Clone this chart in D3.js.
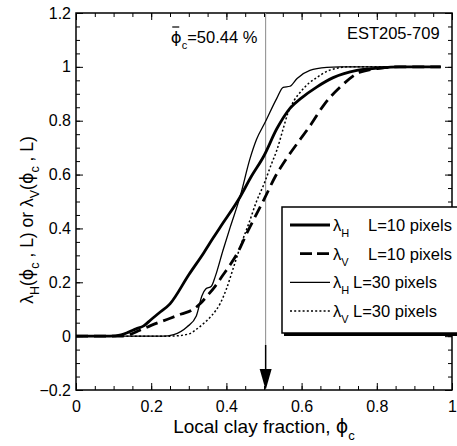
<!DOCTYPE html>
<html>
<head>
<meta charset="utf-8">
<script src="https://cdn.jsdelivr.net/npm/d3@7"></script>
<style>
  body { margin: 0; background: #fff; }
  svg text { font-family: "Liberation Sans", Arial, sans-serif; fill: #000; }
  .phi { font-family: "DejaVu Sans", sans-serif; }
</style>
</head>
<body>
<div id="chart"></div>
<script>
// Data
const phiH10 = [0, 0.09, 0.12, 0.14, 0.16, 0.18, 0.2, 0.22, 0.25, 0.3, 0.34, 0.365, 0.39, 0.436, 0.465, 0.5, 0.534, 0.569, 0.6, 0.64, 0.684, 0.747, 0.8, 0.86, 0.97];
const lamH10 = [0, 0, 0.005, 0.015, 0.027, 0.038, 0.062, 0.085, 0.12, 0.228, 0.31, 0.365, 0.418, 0.516, 0.59, 0.67, 0.77, 0.846, 0.885, 0.925, 0.96, 0.987, 0.995, 1, 1];

const phiV10 = [0, 0.12, 0.14, 0.17, 0.2, 0.242, 0.28, 0.31, 0.33, 0.348, 0.37, 0.39, 0.41, 0.428, 0.457, 0.481, 0.503, 0.529, 0.56, 0.588, 0.622, 0.66, 0.702, 0.755, 0.81, 0.86, 0.97];
const lamV10 = [0, 0, 0.005, 0.022, 0.04, 0.062, 0.082, 0.098, 0.12, 0.148, 0.185, 0.225, 0.265, 0.305, 0.39, 0.456, 0.516, 0.59, 0.66, 0.715, 0.78, 0.86, 0.924, 0.98, 0.995, 1, 1];

const phiH30 = [0, 0.23, 0.26, 0.295, 0.32, 0.335, 0.345, 0.36, 0.37, 0.391, 0.41, 0.436, 0.463, 0.48, 0.503, 0.534, 0.551, 0.569, 0.588, 0.622, 0.667, 0.7, 0.97];
const lamH30 = [0, 0, 0.006, 0.034, 0.075, 0.15, 0.175, 0.185, 0.22, 0.319, 0.404, 0.516, 0.66, 0.73, 0.794, 0.883, 0.924, 0.928, 0.957, 0.987, 0.998, 1, 1];

const phiV30 = [0, 0.25, 0.3, 0.32, 0.34, 0.36, 0.383, 0.4, 0.42, 0.44, 0.46, 0.48, 0.5, 0.52, 0.534, 0.55, 0.564, 0.58, 0.596, 0.62, 0.64, 0.67, 0.694, 0.72, 0.97];
const lamV30 = [0, 0, 0.008, 0.025, 0.048, 0.075, 0.12, 0.175, 0.26, 0.345, 0.42, 0.5, 0.565, 0.64, 0.69, 0.765, 0.83, 0.875, 0.905, 0.94, 0.96, 0.985, 0.995, 1, 1];

const xTicks = [0, 0.2, 0.4, 0.6, 0.8, 1];
const yTicks = [-0.2, 0, 0.2, 0.4, 0.6, 0.8, 1, 1.2];
const phiMean = 0.5044;

// series styles (in legend order)
const series = [
  { phi: phiH10, lam: lamH10, sub: "H", label: "L=10 pixels", width: 2.8, dash: null, gap: 1 },
  { phi: phiV10, lam: lamV10, sub: "V", label: "L=10 pixels", width: 2.8, dash: "12,6", gap: 1 },
  { phi: phiH30, lam: lamH30, sub: "H", label: "L=30 pixels", width: 1.3, dash: null, gap: 0 },
  { phi: phiV30, lam: lamV30, sub: "V", label: "L=30 pixels", width: 1.5, dash: "2,2.2", gap: 0 }
];

const W = 457, H = 446;
const margin = { left: 76, top: 13, right: 5, bottom: 56 };
const width = W - margin.left - margin.right;
const height = H - margin.top - margin.bottom;

const svg = d3.select("#chart").append("svg")
  .attr("width", W)
  .attr("height", H);

const g = svg.append("g")
  .attr("transform", `translate(${margin.left},${margin.top})`);

const x = d3.scaleLinear().domain([0, 1]).range([0, width]);
const y = d3.scaleLinear().domain([-0.2, 1.2]).range([height, 0]);

const xMinor = d3.range(0, 1.0001, 0.05);
const yMinor = d3.range(-0.2, 1.2001, 0.05);

// ticks on all four sides, pointing inwards
function ticks(axis, tx, ty) {
  return g.append("g")
    .attr("transform", `translate(${tx},${ty})`)
    .call(axis)
    .call(s => s.select(".domain").remove());
}
ticks(d3.axisBottom(x).tickValues(xMinor).tickSize(-4).tickFormat(""), 0, height);
ticks(d3.axisBottom(x).tickValues(xTicks).tickSize(-7).tickPadding(11).tickFormat(d3.format("")), 0, height)
  .selectAll("text").attr("font-size", 16);
ticks(d3.axisTop(x).tickValues(xMinor).tickSize(-4).tickFormat(""), 0, 0);
ticks(d3.axisTop(x).tickValues(xTicks).tickSize(-7).tickFormat(""), 0, 0);

ticks(d3.axisLeft(y).tickValues(yMinor).tickSize(-4).tickFormat(""), 0, 0);
ticks(d3.axisLeft(y).tickValues(yTicks).tickSize(-7).tickPadding(5).tickFormat(d3.format("")), 0, 0)
  .selectAll("text").attr("font-size", 16);
ticks(d3.axisRight(y).tickValues(yMinor).tickSize(-4).tickFormat(""), width, 0);
ticks(d3.axisRight(y).tickValues(yTicks).tickSize(-7).tickFormat(""), width, 0);

g.selectAll(".tick line").attr("stroke", "#000").attr("stroke-width", 1);

// frame
g.append("rect")
  .attr("width", width).attr("height", height)
  .attr("fill", "none").attr("stroke", "#000").attr("stroke-width", 1.5);

// mean clay fraction marker
const xm = x(phiMean);
g.append("line")
  .attr("x1", xm).attr("x2", xm)
  .attr("y1", 0).attr("y2", height - 45)
  .attr("stroke", "#8a8a8a").attr("stroke-width", 1);
g.append("line")
  .attr("x1", xm).attr("x2", xm)
  .attr("y1", height - 45).attr("y2", height - 16)
  .attr("stroke", "#000").attr("stroke-width", 1.5);
g.append("path")
  .attr("d", `M${xm - 6},${height - 21} L${xm + 6},${height - 21} L${xm},${height} Z`)
  .attr("fill", "#000");

// curves
const line = d3.line()
  .x(d => x(d[0]))
  .y(d => y(d[1]))
  .curve(d3.curveMonotoneX);

series.forEach(s => {
  g.append("path")
    .datum(s.phi.map((p, i) => [p, s.lam[i]]))
    .attr("d", line)
    .attr("fill", "none")
    .attr("stroke", "#000")
    .attr("stroke-width", s.width)
    .attr("stroke-dasharray", s.dash)
    .attr("stroke-linejoin", "round");
});

// annotations
const ann = g.append("text")
  .attr("x", x(0.252)).attr("y", 30)
  .attr("font-size", 16.5);
ann.append("tspan").attr("class", "phi").text("ϕ");
ann.append("tspan").attr("font-size", 11).attr("dy", 6).text("c");
ann.append("tspan").attr("dy", -6).text("=50.44 %");
g.append("line")
  .attr("x1", x(0.252) + 1.5).attr("x2", x(0.252) + 8.5)
  .attr("y1", 14).attr("y2", 14)
  .attr("stroke", "#000").attr("stroke-width", 1.2);

g.append("text")
  .attr("x", x(0.967)).attr("y", 26)
  .attr("text-anchor", "end")
  .attr("font-size", 16.5)
  .text("EST205-709");

// legend
const lg = svg.append("g").attr("transform", "translate(282,207)");
lg.append("rect")
  .attr("x", 2).attr("y", 3).attr("width", 200).attr("height", 126)
  .attr("fill", "#000");
lg.append("rect")
  .attr("width", 200).attr("height", 126)
  .attr("fill", "#fff").attr("stroke", "#000").attr("stroke-width", 1.5);

series.forEach((s, i) => {
  const ly = 18 + i * 28.7;
  lg.append("line")
    .attr("x1", s.dash === "12,6" ? 18 : 8).attr("x2", 48)
    .attr("y1", ly).attr("y2", ly)
    .attr("stroke", "#000")
    .attr("stroke-width", s.width)
    .attr("stroke-dasharray", s.dash === "12,6" ? "12,5" : s.dash);
  const t = lg.append("text")
    .attr("x", 51).attr("y", ly + 6)
    .attr("font-size", 16.5);
  t.append("tspan").text("λ");
  t.append("tspan").attr("font-size", 11).attr("dy", 6).text(s.sub);
  t.append("tspan")
    .attr("x", s.gap ? 86 : 71).attr("dy", -6)
    .text(s.label);
});

// axis titles
const xt = svg.append("text")
  .attr("x", margin.left + width / 2).attr("y", 433)
  .attr("text-anchor", "middle")
  .attr("font-size", 19);
xt.append("tspan").text("Local clay fraction, ");
xt.append("tspan").attr("class", "phi").text("ϕ");
xt.append("tspan").attr("font-size", 13).attr("dy", 7).text("c");

const yt = svg.append("text")
  .attr("transform", `translate(33,${margin.top + 207}) rotate(-90)`)
  .attr("text-anchor", "middle")
  .attr("font-size", 17.5);
const sub = (txt) => yt.append("tspan").attr("font-size", 12.5).attr("dy", 6).text(txt);
const main = (txt, cls) => yt.append("tspan").attr("class", cls || null).attr("dy", -6).text(txt);
yt.append("tspan").text("λ");
sub("H");
main("(");
yt.append("tspan").attr("class", "phi").text("ϕ");
sub("c");
main(" , L) or λ");
sub("V");
main("(");
yt.append("tspan").attr("class", "phi").text("ϕ");
sub("c");
main(" , L)");
</script>
</body>
</html>
